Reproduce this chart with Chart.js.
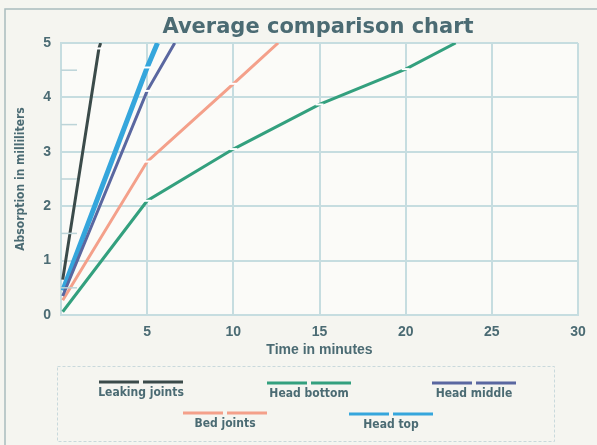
<!DOCTYPE html>
<html lang="en">
<head>
    <meta charset="UTF-8">
    <title>Average comparison chart</title>
    <script src="https://cdn.jsdelivr.net/npm/chart.js"></script>
    <style>
        html, body {
            margin: 0;
            padding: 0;
            background: #f5f5f0;
        }
        #wrap {
            width: 597px;
            height: 445px;
            position: relative;
        }
    </style>
</head>
<body>
<div id="wrap"><canvas id="chart" width="597" height="445"></canvas></div>
<script>
    // values (x = minutes, y = ml)
    const seriesNames = ['Leaking joints', 'Head bottom', 'Head middle', 'Bed joints', 'Head top'];

    const leakingX = [0.1, 2.2, 2.3];
    const leakingY = [0.65, 4.9, 5.0];

    const headBottomX = [0.1, 5, 10, 15, 20, 22.9];
    const headBottomY = [0.06, 2.1, 3.05, 3.87, 4.52, 5.0];

    const headMiddleX = [0.1, 5, 6.6];
    const headMiddleY = [0.35, 4.12, 5.0];

    const bedJointsX = [0.1, 5, 10, 12.6];
    const bedJointsY = [0.27, 2.82, 4.25, 5.0];

    const headTopX = [0.1, 5, 5.6];
    const headTopY = [0.45, 4.55, 5.0];

    const xTicks = [0, 5, 10, 15, 20, 25, 30];
    const yTicks = [0, 1, 2, 3, 4, 5];

    const colors = ['#3b4b4a', '#33a07e', '#5a67a0', '#f4a08a', '#35a6dc'];
    const widths = [3, 3, 3, 3, 5];
    const textColor = '#4b6b73';

    function pts(xs, ys) {
        return xs.map((x, i) => ({x: x, y: ys[i]}));
    }

    const allData = [
        pts(leakingX, leakingY),
        pts(headBottomX, headBottomY),
        pts(headMiddleX, headMiddleY),
        pts(bedJointsX, bedJointsY),
        pts(headTopX, headTopY)
    ];

    // legend: two staggered rows, line sample above the label
    const legendSpots = [
        {x: 141, y: 382},
        {x: 309, y: 383},
        {x: 474, y: 383},
        {x: 225, y: 413},
        {x: 391, y: 414}
    ];

    const extras = {
        id: 'extras',
        beforeDraw(chart) {
            const c = chart.ctx;
            const a = chart.chartArea;
            c.save();
            c.fillStyle = '#fbfbf8';
            c.fillRect(a.left, a.top, a.right - a.left, a.bottom - a.top);
            // outer frame
            c.strokeStyle = '#a9bcbd';
            c.lineWidth = 1.5;
            c.beginPath();
            c.moveTo(5, 445);
            c.lineTo(5, 9);
            c.lineTo(597, 9);
            c.stroke();
            c.restore();
        },
        afterDatasetsDraw(chart) {
            const c = chart.ctx;
            const a = chart.chartArea;
            const ys = chart.scales.y;
            c.save();
            // minor marks at the halves
            c.strokeStyle = '#bcd4d8';
            c.lineWidth = 1.5;
            for (let v = 0.5; v < 5; v += 1) {
                const py = ys.getPixelForValue(v);
                c.beginPath();
                c.moveTo(a.left, py);
                c.lineTo(a.left + 16, py);
                c.stroke();
            }
            c.restore();
        },
        afterDraw(chart) {
            const c = chart.ctx;
            c.save();
            // title
            c.fillStyle = textColor;
            c.font = 'bold 21px "DejaVu Sans", sans-serif';
            c.textAlign = 'center';
            c.textBaseline = 'middle';
            c.fillText('Average comparison chart', 318, 28);

            // legend box
            c.strokeStyle = '#c9d9dc';
            c.lineWidth = 1;
            c.setLineDash([3, 2]);
            c.strokeRect(57.5, 366.5, 497, 75);
            c.setLineDash([]);

            chart.data.datasets.forEach((ds, i) => {
                const s = legendSpots[i];
                c.strokeStyle = ds.borderColor;
                c.lineWidth = 3;
                c.beginPath();
                c.moveTo(s.x - 42, s.y);
                c.lineTo(s.x - 2, s.y);
                c.moveTo(s.x + 2, s.y);
                c.lineTo(s.x + 42, s.y);
                c.stroke();
                c.fillStyle = textColor;
                c.font = 'bold 12px "Liberation Sans Narrow", "DejaVu Sans Condensed", sans-serif';
                c.fillText(ds.label, s.x, s.y + 11);
            });
            c.restore();
        }
    };

    new Chart(document.getElementById('chart'), {
        type: 'line',
        data: {
            datasets: allData.map((d, i) => ({
                label: seriesNames[i],
                data: d,
                borderColor: colors[i],
                backgroundColor: colors[i],
                borderWidth: widths[i],
                tension: 0,
                pointStyle: 'line',
                pointRadius: ctx => (ctx.dataIndex === 0 || ctx.raw.y >= 5) ? 0 : 4,
                pointBorderColor: '#ffffff',
                pointBorderWidth: 2,
                pointHoverRadius: 0
            }))
        },
        options: {
            responsive: false,
            animation: false,
            layout: {padding: {top: 43, right: 19, bottom: 85, left: 0}},
            plugins: {
                legend: {display: false},
                title: {display: false},
                tooltip: {enabled: false}
            },
            scales: {
                x: {
                    type: 'linear',
                    min: 0,
                    max: 30,
                    afterBuildTicks: s => { s.ticks = xTicks.map(v => ({value: v})); },
                    afterFit: s => { s.height = 45; },
                    grid: {color: '#c6dde0', lineWidth: 2, drawTicks: false},
                    border: {color: '#c6dde0', width: 2},
                    ticks: {
                        padding: 9,
                        color: textColor,
                        font: {family: '"Liberation Sans", Arial, sans-serif', size: 14, weight: 'bold'},
                        callback: v => v === 0 ? '' : v
                    },
                    title: {
                        display: true,
                        text: 'Time in minutes',
                        color: textColor,
                        font: {family: '"Liberation Sans", Arial, sans-serif', size: 14, weight: 'bold'},
                        padding: {top: 0, bottom: 1}
                    }
                },
                y: {
                    min: 0,
                    max: 5,
                    afterBuildTicks: s => { s.ticks = yTicks.map(v => ({value: v})); },
                    afterFit: s => { s.width = 61; },
                    grid: {color: '#c6dde0', lineWidth: 2, drawTicks: false},
                    border: {color: '#c6dde0', width: 2},
                    ticks: {
                        padding: 10,
                        color: textColor,
                        font: {family: '"Liberation Sans", Arial, sans-serif', size: 14, weight: 'bold'}
                    },
                    title: {
                        display: true,
                        text: 'Absorption in milliliters',
                        color: textColor,
                        font: {family: '"Liberation Sans Narrow", "DejaVu Sans Condensed", sans-serif', size: 12, weight: 'bold'},
                        padding: {top: 14, bottom: 0}
                    }
                }
            }
        },
        plugins: [extras]
    });
</script>
</body>
</html>
